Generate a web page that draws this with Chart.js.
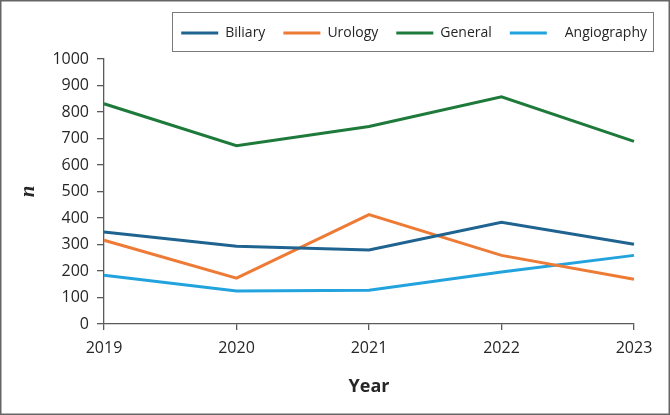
<!DOCTYPE html>
<html>
<head>
<meta charset="utf-8">
<script src="https://cdn.jsdelivr.net/npm/chart.js@4/dist/chart.umd.min.js"></script>
<style>
  html, body { margin: 0; padding: 0; background: #ffffff; }
  #wrap { width: 670px; height: 415px; position: relative; }
</style>
</head>
<body>
<div id="wrap"><canvas id="chart" width="670" height="415"></canvas></div>
<script>
// ─── Dane ────────────────────────────────────────────────────────────────────
const years       = ['2019', '2020', '2021', '2022', '2023'];
const biliary     = [347, 293, 279, 384, 301];
const urology     = [316, 173, 413, 259, 169];
const general     = [831, 673, 745, 857, 689];
const angiography = [184, 125, 127, 196, 259];
const yTicks      = [0, 100, 200, 300, 400, 500, 600, 700, 800, 900, 1000];

const COLORS = {
  biliary:     '#1f6490',
  urology:     '#ee7b35',
  general:     '#1e7a3b',
  angiography: '#22a3de',
  axis:        '#5a5a5a',
  text:        '#262626',
  frame:       '#666666',
};

const FONT = 'Open Sans, sans-serif';

// przesunięcie legendy w prawy górny róg (jak w oryginale)
const legendShift = {
  id: 'legendShift',
  afterLayout(chart) {
    const lg = chart.legend;
    const w = lg.right - lg.left;
    lg.right = chart.width - 5;
    lg.left = lg.right - w;
    lg.top -= 9;
    lg.bottom -= 9;
  }
};

// ramka wokół całego wykresu i wokół legendy
const framePlugin = {
  id: 'frames',
  afterDraw(chart) {
    const ctx = chart.ctx;
    ctx.save();
    ctx.strokeStyle = COLORS.frame;
    ctx.lineWidth = 1.5;
    ctx.strokeRect(0.75, 0.75, chart.width - 1.5, chart.height - 1.5);
    const boxes = chart.legend.legendHitBoxes;
    if (boxes && boxes.length) {
      const first = boxes[0], last = boxes[boxes.length - 1];
      const x0 = first.left - 9, x1 = last.left + last.width + 6;
      const y0 = first.top - 14, y1 = first.top + first.height + 11;
      ctx.lineWidth = 1;
      ctx.strokeStyle = '#7a7a7a';
      ctx.strokeRect(Math.round(x0) + 0.5, Math.round(y0) + 0.5, Math.round(x1 - x0), Math.round(y1 - y0));
    }
    ctx.restore();
  }
};

function ds(label, data, color) {
  return {
    label, data,
    borderColor: color,
    backgroundColor: color,
    borderWidth: 3,
    pointRadius: 0,
    tension: 0,
    fill: false,
  };
}

new Chart(document.getElementById('chart'), {
  type: 'line',
  data: {
    labels: years,
    datasets: [
      ds('Biliary', biliary, COLORS.biliary),
      ds('Urology', urology, COLORS.urology),
      ds('General', general, COLORS.general),
      ds('Angiography', angiography, COLORS.angiography),
    ],
  },
  options: {
    responsive: false,
    animation: false,
    layout: { padding: { top: 17, right: 36, bottom: 0, left: 0 } },
    scales: {
      x: {
        offset: false,
        grid: { drawOnChartArea: false, drawTicks: true, tickLength: 6, color: COLORS.axis, lineWidth: 1.3 },
        border: { display: true, color: COLORS.axis, width: 1.3 },
        ticks: { color: COLORS.text, padding: 9, maxRotation: 0, font: { family: FONT, size: 16 } },
        title: {
          display: true, text: 'Year', color: COLORS.text,
          font: { family: FONT, size: 18, weight: 'bold' },
          padding: { top: 17, bottom: 17 },
        },
        afterFit(scale) { scale.height = 91; },
      },
      y: {
        min: 0, max: 1000,
        afterBuildTicks(scale) { scale.ticks = yTicks.map(v => ({ value: v })); },
        grid: { drawOnChartArea: false, drawTicks: true, tickLength: 7, color: COLORS.axis, lineWidth: 1.3 },
        border: { display: true, color: COLORS.axis, width: 1.3 },
        ticks: {
          color: COLORS.text, padding: 8, font: { family: FONT, size: 16 },
          callback: v => String(v),
        },
        title: {
          display: true, text: 'n', color: COLORS.text,
          font: { family: 'Liberation Serif, serif', size: 21, weight: 'bold', style: 'italic' },
          padding: { top: 16, bottom: 16 },
        },
        afterFit(scale) { scale.width = 104; },
      },
    },
    plugins: {
      legend: {
        position: 'top',
        align: 'end',
        labels: {
          color: COLORS.text,
          boxWidth: 37,
          boxHeight: 3,
          padding: 18,
          font: { family: FONT, size: 14 },
          generateLabels(chart) {
            return chart.data.datasets.map((d, i) => ({
              text: d.label === 'Angiography' ? '   ' + d.label : d.label,
              fillStyle: d.borderColor,
              strokeStyle: d.borderColor,
              lineWidth: 0,
              fontColor: COLORS.text,
              datasetIndex: i,
              hidden: false,
            }));
          },
        },
      },
      tooltip: { enabled: false },
    },
  },
  plugins: [legendShift, framePlugin],
});
</script>
</body>
</html>
